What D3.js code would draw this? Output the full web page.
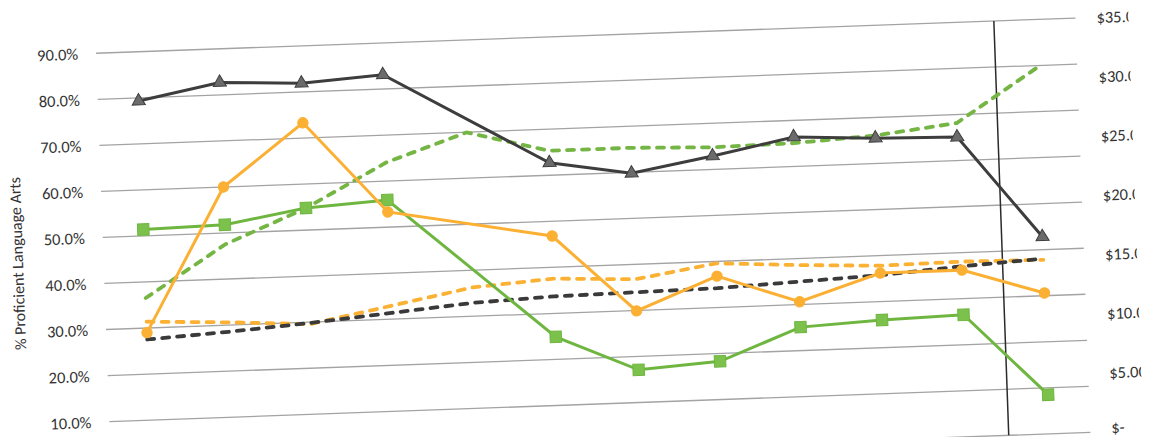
<!DOCTYPE html>
<html>
<head>
<meta charset="utf-8">
<script src="https://cdn.jsdelivr.net/npm/d3@7"></script>
<style>
  body { margin: 0; background: #fff; }
  svg { display: block; }
  text { font-family: Calibri, Carlito, Lato, sans-serif; fill: #333; }
</style>
</head>
<body>
<svg id="chart" width="1159" height="437"></svg>
<script>
// 12 school years on the x axis (labels are cut off in the scan)
const categories = ["Y1","Y2","Y3","Y4","Y5","Y6","Y7","Y8","Y9","Y10","Y11","Y12"];

// % proficient, left axis (null = no value, line goes straight through)
const grayProficient   = [0.793, 0.827, 0.819, 0.831, null, 0.627, 0.598, 0.629, 0.664, 0.655, 0.651, 0.428];
const greenProficient  = [0.514, 0.518, 0.548, 0.559, null, 0.249, 0.171, 0.183, 0.251, 0.260, 0.265, 0.085];
const orangeProficient = [0.290, 0.600, 0.733, 0.533, null, 0.468, 0.299, 0.368, 0.306, 0.362, 0.362, 0.306];

// dollars, right axis
const greenDollars  = [14.2, 18.5, 21.3, 24.9, 27.2, 25.4, 25.4, 25.2, 25.3, 25.7, 26.5, 30.9];
const orangeDollars = [12.2, 11.9, 11.5, 12.8, 14.1, 14.6, 14.3, 15.4, 15.0, 14.7, 14.8, 14.7];
const grayDollars   = [10.7, 11.1, 11.6, 12.2, 12.8, 13.1, 13.2, 13.3, 13.6, 13.9, 14.4, 14.8];

const leftTicks = [0, 0.1, 0.2, 0.3, 0.4, 0.5, 0.6, 0.7, 0.8, 0.9];
const rightTicks = [0, 5, 10, 15, 20, 25, 30, 35];
const dividerBetween = ["Y11", "Y12"];

const svg = d3.select("#chart");

// the scan is tilted a couple of degrees
const tilted = svg.append("g").attr("transform", "rotate(-2.06,100,468)");

// right edge of the original chart was cropped
tilted.append("clipPath").attr("id", "cut")
  .append("rect").attr("x", -200).attr("y", -200).attr("width", 1344).attr("height", 900);

const g = tilted.append("g").attr("clip-path", "url(#cut)");

let plotLeft = 111, plotRight = 1091, plotTop = 53.4, plotBottom = 468;

let xScale = d3.scaleBand().domain(categories).range([plotLeft, plotRight]).padding(0);
let cx = c => xScale(c) + xScale.bandwidth() / 2;
let yLeft = d3.scaleLinear().domain([0, 0.9]).range([plotBottom, plotTop]);
let yRight = d3.scaleLinear().domain([0, 35]).range([plotBottom, plotTop]);

// gridlines
g.append("g").attr("class", "grid")
  .selectAll("line")
  .data(leftTicks)
  .enter()
  .append("line")
  .attr("x1", plotLeft)
  .attr("x2", plotRight)
  .attr("y1", d => yLeft(d))
  .attr("y2", d => yLeft(d))
  .attr("stroke", "#a3a3a3")
  .attr("stroke-width", 1.3);

// axes
let leftAxis = d3.axisLeft(yLeft).tickValues(leftTicks.slice(1)).tickFormat(d3.format(".1%")).tickSize(0).tickPadding(18);
let leftG = g.append("g")
  .attr("transform", "translate(" + plotLeft + ",0)")
  .call(leftAxis);
leftG.select(".domain").remove();
leftG.selectAll("text").style("font-size", "16.5px").style("fill", "#333");

let rightAxis = d3.axisRight(yRight).tickValues(rightTicks).tickSize(0).tickPadding(21)
  .tickFormat(d => d === 0 ? "$-" : "$" + d3.format(".2f")(d));
let rightG = g.append("g")
  .attr("transform", "translate(" + plotRight + ",0)")
  .call(rightAxis);
rightG.select(".domain").remove();
rightG.selectAll("text").style("font-size", "16.5px").style("fill", "#333");
// keep the zero label inside the frame
rightG.selectAll(".tick").filter(d => d === 0).select("text").attr("dy", "0.05em");

g.append("text")
  .attr("transform", "translate(25," + ((plotTop + plotBottom) / 2) + ") rotate(-90)")
  .attr("text-anchor", "middle")
  .attr("dominant-baseline", "central")
  .style("font-size", "16px")
  .text("% Proficient Language Arts");

// vertical divider between the last two years
let divX = (cx(dividerBetween[0]) + cx(dividerBetween[1])) / 2;
g.append("line")
  .attr("x1", divX).attr("x2", divX)
  .attr("y1", plotTop).attr("y2", plotBottom)
  .attr("stroke", "#2b2b2b")
  .attr("stroke-width", 1.5);

function pairs(values){
  return categories.map((c, i) => [c, values[i]]).filter(d => d[1] != null);
}

// dashed dollar series
function dashed(values, color){
  let line = d3.line().x(d => cx(d[0])).y(d => yRight(d[1]));
  g.append("path")
    .datum(pairs(values))
    .attr("d", line)
    .attr("fill", "none")
    .attr("stroke", color)
    .attr("stroke-width", 3.8)
    .attr("stroke-linecap", "round")
    .attr("stroke-dasharray", "7,8");
}
dashed(greenDollars, "#74b544");
dashed(orangeDollars, "#fbb234");
dashed(grayDollars, "#3a3a3a");

// solid % series with markers
function solid(values, color, markerFill, symbol, size){
  let pts = pairs(values);
  let line = d3.line().x(d => cx(d[0])).y(d => yLeft(d[1]));
  g.append("path")
    .datum(pts)
    .attr("d", line)
    .attr("fill", "none")
    .attr("stroke", color)
    .attr("stroke-width", 3);
  g.append("g")
    .selectAll("path")
    .data(pts)
    .enter()
    .append("path")
    .attr("d", d3.symbol().type(symbol).size(size))
    .attr("transform", d => "translate(" + cx(d[0]) + "," + yLeft(d[1]) + ")")
    .attr("fill", markerFill)
    .attr("stroke", color)
    .attr("stroke-width", 1);
}
solid(grayProficient, "#3d3d3d", "#6b6b6b", d3.symbolTriangle, 75);
solid(greenProficient, "#6fb640", "#7cc14c", d3.symbolSquare, 130);
solid(orangeProficient, "#fbb034", "#fbb034", d3.symbolCircle, 85);
</script>
</body>
</html>
